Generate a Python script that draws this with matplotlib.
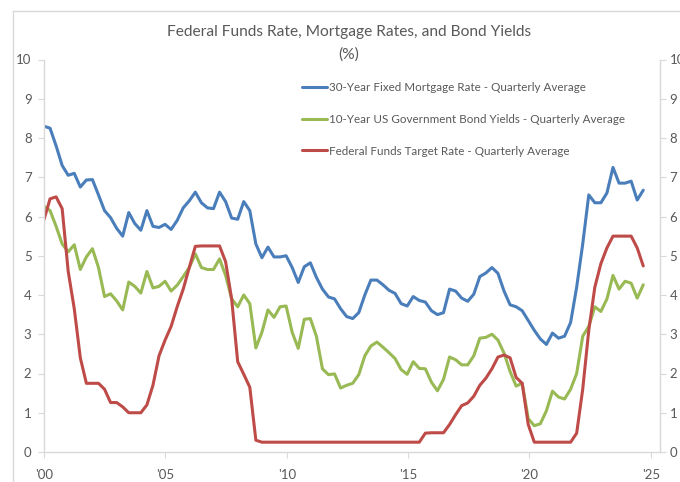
import matplotlib

matplotlib.use("Agg")

import matplotlib.pyplot as plt
import numpy as np
from matplotlib.lines import Line2D

plt.rcParams["font.family"] = ["Lato", "DejaVu Sans"]

# quarterly averages, 2000 Q1 through 2024 Q3
mortgage_30y = [
    8.30, 8.25, 7.80, 7.30, 7.05, 7.10, 6.75, 6.93, 6.94, 6.55,
    6.15, 5.97, 5.70, 5.50, 6.10, 5.82, 5.65, 6.15, 5.75, 5.72,
    5.80, 5.67, 5.90, 6.22, 6.40, 6.62, 6.35, 6.22, 6.20, 6.62,
    6.38, 5.96, 5.93, 6.38, 6.15, 5.30, 4.95, 5.22, 4.97, 4.97,
    5.00, 4.70, 4.32, 4.72, 4.82, 4.45, 4.15, 3.95, 3.90, 3.65,
    3.45, 3.40, 3.55, 4.00, 4.38, 4.38, 4.26, 4.12, 4.04, 3.78,
    3.72, 3.96, 3.86, 3.82, 3.60, 3.50, 3.55, 4.15, 4.10, 3.92,
    3.84, 4.02, 4.47, 4.56, 4.70, 4.55, 4.10, 3.75, 3.70, 3.60,
    3.35, 3.10, 2.88, 2.74, 3.03, 2.90, 2.95, 3.30, 4.20, 5.30,
    6.55, 6.35, 6.35, 6.60, 7.25, 6.85, 6.85, 6.90, 6.42, 6.67,
]
treasury_10y = [
    6.26, 6.15, 5.75, 5.30, 5.10, 5.28, 4.65, 4.97, 5.18, 4.70,
    3.96, 4.03, 3.85, 3.62, 4.33, 4.22, 4.05, 4.60, 4.18, 4.22,
    4.35, 4.10, 4.25, 4.47, 4.70, 5.05, 4.70, 4.65, 4.65, 4.92,
    4.50, 3.90, 3.70, 4.00, 3.78, 2.65, 3.05, 3.62, 3.43, 3.70,
    3.72, 3.05, 2.64, 3.38, 3.40, 2.95, 2.12, 1.97, 1.99, 1.63,
    1.70, 1.75, 1.97, 2.45, 2.70, 2.80, 2.67, 2.53, 2.38, 2.10,
    1.98, 2.30, 2.13, 2.12, 1.78, 1.56, 1.85, 2.42, 2.35, 2.22,
    2.22, 2.45, 2.90, 2.92, 3.00, 2.85, 2.52, 2.05, 1.68, 1.75,
    0.85, 0.67, 0.72, 1.05, 1.55, 1.40, 1.35, 1.60, 2.00, 2.95,
    3.20, 3.70, 3.58, 3.90, 4.50, 4.15, 4.35, 4.30, 3.92, 4.26,
]
fed_funds = [
    5.92, 6.45, 6.50, 6.20, 4.60, 3.65, 2.40, 1.75, 1.75, 1.75,
    1.60, 1.26, 1.26, 1.15, 1.00, 1.00, 1.00, 1.20, 1.70, 2.45,
    2.85, 3.20, 3.70, 4.15, 4.70, 5.24, 5.25, 5.25, 5.25, 5.25,
    4.85, 3.90, 2.30, 1.98, 1.65, 0.30, 0.25, 0.25, 0.25, 0.25,
    0.25, 0.25, 0.25, 0.25, 0.25, 0.25, 0.25, 0.25, 0.25, 0.25,
    0.25, 0.25, 0.25, 0.25, 0.25, 0.25, 0.25, 0.25, 0.25, 0.25,
    0.25, 0.25, 0.25, 0.48, 0.49, 0.49, 0.49, 0.70, 0.95, 1.18,
    1.25, 1.42, 1.70, 1.88, 2.12, 2.42, 2.47, 2.40, 1.90, 1.75,
    0.70, 0.25, 0.25, 0.25, 0.25, 0.25, 0.25, 0.25, 0.48, 1.60,
    3.10, 4.20, 4.80, 5.20, 5.50, 5.50, 5.50, 5.50, 5.20, 4.74,
]
series_labels = [
    "30-Year Fixed Mortgage Rate - Quarterly Average",
    "10-Year US Government Bond Yields - Quarterly Average",
    "Federal Funds Target Rate - Quarterly Average",
]
series_colors = ["#4A7EBB", "#98B954", "#BE4B48"]
year_ticks = [2000, 2005, 2010, 2015, 2020, 2025]
year_labels = ["'00", "'05", "'10", "'15", "'20", "'25"]

years = np.linspace(2000, 2024.69, len(mortgage_30y))

W, H = 680, 482
TEXT = "#595959"
AXIS = "#D9D9D9"

fig = plt.figure(figsize=(W / 100, H / 100), dpi=100)
ax = fig.add_axes([44 / W, 1 - 452 / H, (660 - 44) / W, (452 - 59.5) / H])

for values, label, color in zip([mortgage_30y, treasury_10y, fed_funds], series_labels, series_colors):
    ax.plot(years, values, color=color, lw=2.2, label=label, solid_capstyle="round", solid_joinstyle="round")

ax.set_xlim(2000, 2025.38)
ax.set_ylim(0, 10)
ax.set_xticks(year_ticks)
ax.set_xticklabels(year_labels)
ax.set_yticks(range(0, 11))

ax.spines["top"].set_visible(False)
for side in ["left", "right", "bottom"]:
    ax.spines[side].set_color(AXIS)
    ax.spines[side].set_linewidth(1.0)

ax.tick_params(axis="both", direction="out", length=4, color=AXIS, labelcolor=TEXT, labelsize=9.5)
ax.tick_params(axis="y", pad=5)
ax.tick_params(axis="x", pad=8)

ax2 = ax.twinx()
ax2.set_ylim(0, 10)
ax2.set_yticks(range(0, 11))
for side in ["top", "left", "bottom"]:
    ax2.spines[side].set_visible(False)
ax2.spines["right"].set_color(AXIS)
ax2.tick_params(axis="y", direction="out", length=4, color=AXIS, labelcolor=TEXT, labelsize=9.5, pad=3)

ax.legend(
    loc="upper left",
    bbox_to_anchor=(302 / W, 1 - 82 / H),
    bbox_transform=fig.transFigure,
    frameon=False,
    fontsize=8.4,
    handlelength=2.15,
    handletextpad=0.2,
    labelspacing=1.78,
    borderpad=0,
    borderaxespad=0,
    labelcolor=TEXT,
)

fig.text(349 / W, 1 - 32 / H, "Federal Funds Rate, Mortgage Rates, and Bond Yields",
         ha="center", va="center", fontsize=11.2, color=TEXT)
fig.text(349 / W, 1 - 55 / H, "(%)", ha="center", va="center", fontsize=11.2, color=TEXT)

# chart-area border (cropped at the right and bottom)
fig.add_artist(Line2D([12.5 / W, 12.5 / W], [0, 1 - 10.5 / H], transform=fig.transFigure, color=AXIS, lw=1))
fig.add_artist(Line2D([12.5 / W, 1], [1 - 10.5 / H, 1 - 10.5 / H], transform=fig.transFigure, color=AXIS, lw=1))

fig.savefig("out.png", dpi=100)
